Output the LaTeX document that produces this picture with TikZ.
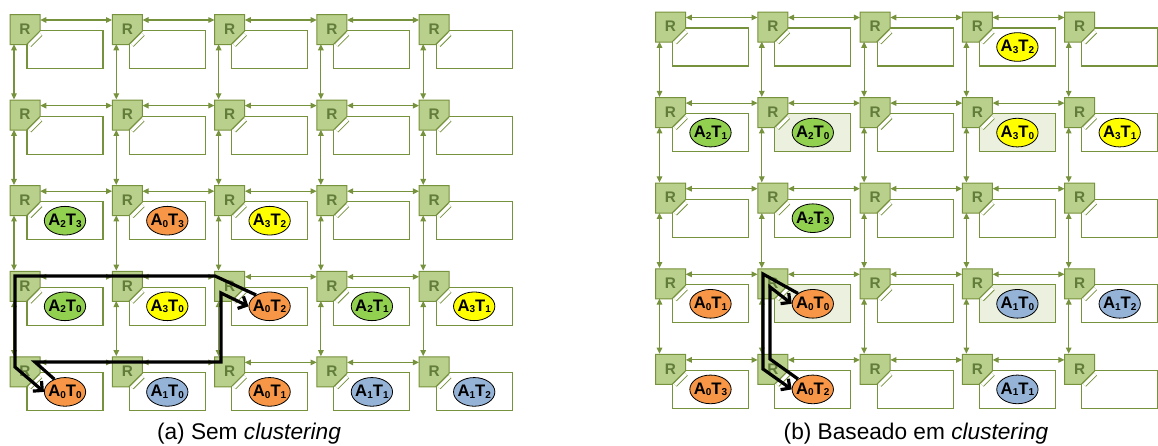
\documentclass[tikz,border=0pt]{standalone}
\usepackage{fontspec}
\setmainfont{Liberation Sans}
\usepackage{xcolor}
\usepackage{tikz}
\usetikzlibrary{shapes.geometric,arrows.meta,calc}

\definecolor{olivedark}{HTML}{76923C}
\definecolor{routerfill}{HTML}{B9CF8C}
\definecolor{rtext}{HTML}{627C3A}
\definecolor{tilehl}{HTML}{EBF1DE}
\definecolor{taskgreen}{HTML}{92D050}
\definecolor{taskorange}{HTML}{F79646}
\definecolor{taskyellow}{HTML}{FFFF00}
\definecolor{taskblue}{HTML}{95B3D7}

\newcommand{\sbs}[1]{\raisebox{-1.2pt}{\fontsize{7.5}{7.5}\selectfont #1}}
\newcommand{\tk}[2]{\makebox[0pt]{A\sbs{#1}T\sbs{#2}}}

\begin{document}
\begin{tikzpicture}[
    x=0.75pt, y=-0.75pt,
    tile/.style={rectangle, draw=olivedark, line width=0.8pt, minimum width=57pt, minimum height=28.5pt, inner sep=0pt},
    routerbody/.style={draw=olivedark, fill=routerfill, line width=0.75pt},
    router/.style={rectangle, minimum width=22.5pt, minimum height=22.5pt, inner sep=0pt, font=\fontsize{11.5}{12}\selectfont\bfseries, text=rtext},
    ni/.style={draw=olivedark, line width=0.7pt, double=white, double distance=2.4pt},
    link/.style={draw=olivedark, line width=0.8pt, {Triangle[length=4.5pt,width=4.2pt]}-{Triangle[length=4.5pt,width=4.2pt]}},
    task/.style={ellipse, draw=black, line width=0.6pt, fill=#1, minimum width=31pt, minimum height=21.5pt, inner sep=0pt, font=\fontsize{12.5}{13}\selectfont\bfseries},
    route/.style={draw=black, line width=2.4pt, -{Straight Barb[length=5pt,width=10pt]}},
    capt/.style={font=\fontsize{17}{20}\selectfont, anchor=base}
]
    \useasboundingbox (0,0) rectangle (1158,446);

    % the two 5x5 meshes
    \foreach \g/\ox/\oy/\h in {a/25/29.5/0, b/670.5/27/1} {
        \foreach \row in {1,...,5} {
            \foreach \col in {1,...,5} {
                \pgfmathsetmacro\cx{\ox+102.3*(\col-1)}
                \pgfmathsetmacro\cy{\oy+85.6*(\row-1)}
                \pgfmathtruncatemacro\hl{\h*iseven(\row)*iseven(\col)}
                \ifnum\hl=1 \def\tf{tilehl}\else\def\tf{white}\fi
                \node [tile, fill=\tf] (t\g\row\col) at (\cx+40,\cy+20) {};
                \filldraw [routerbody] (\cx-15,\cy-15) -- (\cx+15,\cy-15) -- (\cx+15,\cy+1.5)
                    -- (\cx+1.5,\cy+15) -- (\cx-15,\cy+15) -- cycle;
                \node [router] (r\g\row\col) at (\cx,\cy-0.5) {R};
                \draw [ni] (\cx+4.5,\cy+15.5) -- (\cx+15.5,\cy+4.5);
            }
        }
        \foreach \row in {1,...,5} {
            \foreach \col [count=\n from 2] in {1,...,4} {
                \draw [link] ([yshift=6.75pt]r\g\row\col.east) -- ([yshift=6.75pt]r\g\row\n.west);
            }
        }
        \foreach \col in {1,...,5} {
            \foreach \row [count=\n from 2] in {1,...,4} {
                \draw [link] ([xshift=-8.25pt]r\g\row\col.south) -- ([xshift=-8.25pt]r\g\n\col.north);
            }
        }
    }

    % tasks, (a)
    \node [task=taskgreen] (aA2T3) at (ta31) {\tk{2}{3}};
    \node [task=taskorange] (aA0T3) at (ta32) {\tk{0}{3}};
    \node [task=taskyellow] (aA3T2) at (ta33) {\tk{3}{2}};
    \node [task=taskgreen] (aA2T0) at (ta41) {\tk{2}{0}};
    \node [task=taskyellow] (aA3T0) at (ta42) {\tk{3}{0}};
    \node [task=taskorange] (aA0T2) at (ta43) {\tk{0}{2}};
    \node [task=taskgreen] (aA2T1) at (ta44) {\tk{2}{1}};
    \node [task=taskyellow] (aA3T1) at (ta45) {\tk{3}{1}};
    \node [task=taskorange] (aA0T0) at (ta51) {\tk{0}{0}};
    \node [task=taskblue] (aA1T0) at (ta52) {\tk{1}{0}};
    \node [task=taskorange] (aA0T1) at (ta53) {\tk{0}{1}};
    \node [task=taskblue] (aA1T1) at (ta54) {\tk{1}{1}};
    \node [task=taskblue] (aA1T2) at (ta55) {\tk{1}{2}};

    % tasks, (b)
    \node [task=taskyellow] (bA3T2) at (tb14) {\tk{3}{2}};
    \node [task=taskgreen] (bA2T1) at (tb21) {\tk{2}{1}};
    \node [task=taskgreen] (bA2T0) at (tb22) {\tk{2}{0}};
    \node [task=taskyellow] (bA3T0) at (tb24) {\tk{3}{0}};
    \node [task=taskyellow] (bA3T1) at (tb25) {\tk{3}{1}};
    \node [task=taskgreen] (bA2T3) at (tb32) {\tk{2}{3}};
    \node [task=taskorange] (bA0T1) at (tb41) {\tk{0}{1}};
    \node [task=taskorange] (bA0T0) at (tb42) {\tk{0}{0}};
    \node [task=taskblue] (bA1T0) at (tb44) {\tk{1}{0}};
    \node [task=taskblue] (bA1T2) at (tb45) {\tk{1}{2}};
    \node [task=taskorange] (bA0T3) at (tb51) {\tk{0}{3}};
    \node [task=taskorange] (bA0T2) at (tb52) {\tk{0}{2}};
    \node [task=taskblue] (bA1T1) at (tb54) {\tk{1}{1}};

    % routes between A0T0 and A0T2
    \coordinate (qa1) at (215,276);
    \coordinate (qa2) at (15,276);
    \coordinate (qa3) at (15,367);
    \coordinate (qa4) at (35,362);
    \coordinate (qa5) at (221,362);
    \coordinate (qa6) at (221,293);
    \draw [route] (aA0T2.140) -- (qa1) -- (qa2) -- (qa3) -- (aA0T0.west);
    \draw [route] (aA0T0.130) -- (qa4) -- (qa5) -- (qa6) -- (aA0T2.west);

    \coordinate (qb1) at (763,274);
    \coordinate (qb2) at (763,369);
    \coordinate (qb3) at (770,359);
    \coordinate (qb4) at (770,287);
    \draw [route] (bA0T0.145) -- (qb1) -- (qb2) -- (bA0T2.west);
    \draw [route] (bA0T2.145) -- (qb3) -- (qb4) -- (bA0T0.west);

    \node [capt] (capa) at (249,439) {(a) Sem \textit{clustering}};
    \node [capt] (capb) at (916,439) {(b) Baseado em \textit{clustering}};
\end{tikzpicture}
\end{document}
